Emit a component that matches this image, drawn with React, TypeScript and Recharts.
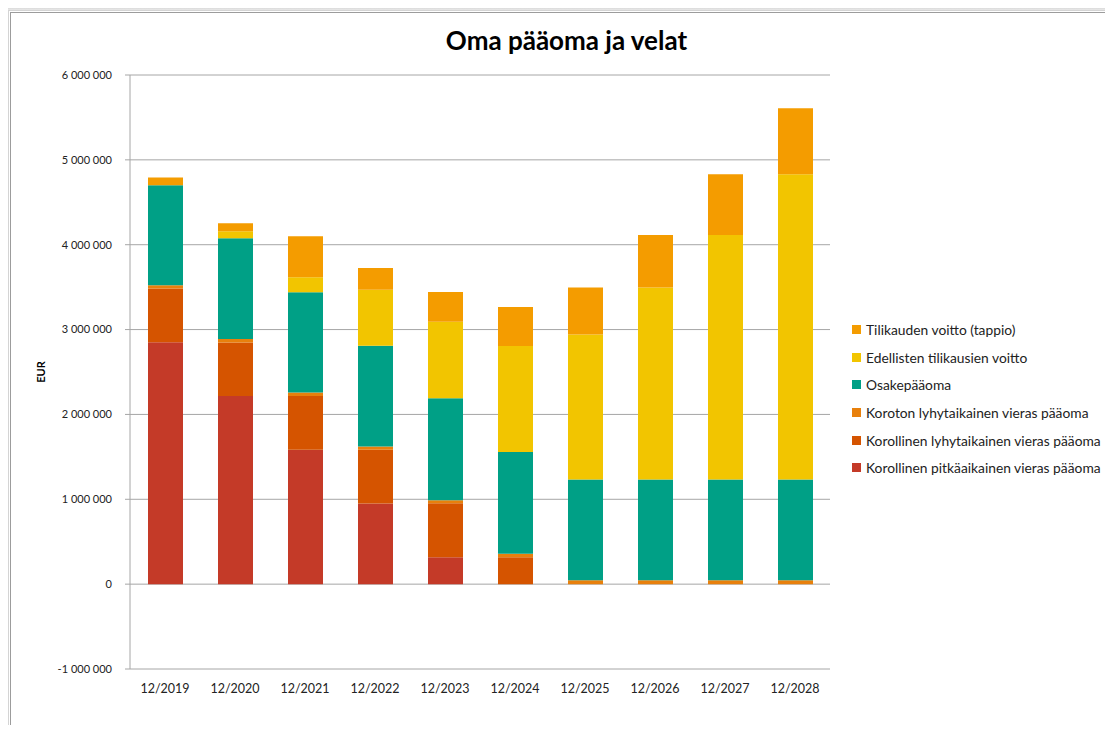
import React from 'react';
import { BarChart, Bar, XAxis, YAxis, CartesianGrid } from 'recharts';

const categories = ['12/2019', '12/2020', '12/2021', '12/2022', '12/2023', '12/2024', '12/2025', '12/2026', '12/2027', '12/2028'];
const korollinenPitka = [2850000, 2216000, 1583000, 950000, 317000, 0, 0, 0, 0, 0];
const korollinenLyhyt = [633000, 633000, 633000, 633000, 637000, 317000, 0, 0, 0, 0];
const korotonLyhyt = [40000, 39000, 42000, 40000, 36000, 40000, 45000, 45000, 45000, 45000];
const osakepaaoma = [1178000, 1187000, 1182000, 1186000, 1200000, 1199000, 1189000, 1189000, 1189000, 1189000];
const edellistenVoitto = [0, 83000, 177000, 660000, 902000, 1250000, 1709000, 2263000, 2880000, 3595000];
const tilikaudenVoitto = [90000, 94000, 483000, 256000, 350000, 459000, 554000, 617000, 715000, 780000];
const yTicks = [-1000000, 0, 1000000, 2000000, 3000000, 4000000, 5000000, 6000000];

const COLORS = {
  pitka: '#C43A28',
  lyhyt: '#D55400',
  koroton: '#E8800C',
  osake: '#00A086',
  edellisten: '#F2C500',
  tilikauden: '#F49C00',
};

const NAMES = {
  pitka: 'Korollinen pitkäaikainen vieras pääoma',
  lyhyt: 'Korollinen lyhytaikainen vieras pääoma',
  koroton: 'Koroton lyhytaikainen vieras pääoma',
  osake: 'Osakepääoma',
  edellisten: 'Edellisten tilikausien voitto',
  tilikauden: 'Tilikauden voitto (tappio)',
};

const legendOrder = ['tilikauden', 'edellisten', 'osake', 'koroton', 'lyhyt', 'pitka'];

const data = categories.map((c, i) => ({
  name: c,
  pitka: korollinenPitka[i],
  lyhyt: korollinenLyhyt[i],
  koroton: korotonLyhyt[i],
  osake: osakepaaoma[i],
  edellisten: edellistenVoitto[i],
  tilikauden: tilikaudenVoitto[i],
}));

const fmt = (v: number) => {
  const s = Math.abs(v).toString().replace(/\B(?=(\d{3})+(?!\d))/g, ' ');
  return v < 0 ? '-' + s : s;
};

const FONT = 'Lato, "Open Sans", sans-serif';

export default function App() {
  return (
    <div style={{ margin: -8, width: 1113, height: 733, position: 'relative', background: '#fff', overflow: 'hidden' }}>
      <div style={{ position: 'absolute', left: 0, top: 0, width: 1113, height: 10, background: 'linear-gradient(to bottom, #a4a4a4, #e8e8e8)' }} />
      <div style={{ position: 'absolute', left: 0, top: 0, width: 8, height: 733, background: 'linear-gradient(to right, #a4a4a4, #e8e8e8)' }} />
      <div
        style={{
          position: 'absolute',
          left: 8,
          top: 10,
          width: 1120,
          height: 740,
          background: '#fff',
          borderTop: '1px solid #d4d4d4',
          borderLeft: '1px solid #d4d4d4',
        }}
      />
      <div
        style={{
          position: 'absolute',
          left: 10,
          top: 12,
          width: 1120,
          height: 740,
          borderTop: '1px solid #9c9c9c',
          borderLeft: '1px solid #9c9c9c',
        }}
      />
      <div
        style={{
          position: 'absolute',
          left: 0,
          width: 1133,
          top: 24,
          textAlign: 'center',
          fontFamily: FONT,
          fontWeight: 700,
          fontSize: 26,
          color: '#000',
        }}
      >
        Oma pääoma ja velat
      </div>
      <div
        style={{
          position: 'absolute',
          left: 40,
          top: 372,
          transform: 'translate(-50%, -50%) rotate(-90deg)',
          fontFamily: FONT,
          fontWeight: 700,
          fontSize: 11,
          color: '#000',
        }}
      >
        EUR
      </div>
      <div style={{ position: 'absolute', left: 852, top: 316, fontFamily: FONT, fontSize: 13.8, color: '#222' }}>
        {legendOrder.map((k) => (
          <div key={k} style={{ display: 'flex', alignItems: 'center', height: 27.6 }}>
            <span style={{ display: 'inline-block', width: 9, height: 9, background: (COLORS as any)[k], marginRight: 5 }} />
            <span style={{ whiteSpace: 'nowrap' }}>{(NAMES as any)[k]}</span>
          </div>
        ))}
      </div>
      <div style={{ position: 'absolute', left: 8, top: 8 }}>
        <BarChart
          width={840}
          height={717}
          data={data}
          margin={{ top: 67, right: 18, bottom: 26, left: 42 }}
        >
          <CartesianGrid vertical={false} stroke="#a6a6a6" />
          <XAxis
            dataKey="name"
            axisLine={false}
            tickLine={false}
            tickMargin={9}
            height={30}
            interval={0}
            tick={{ fontFamily: FONT, fontSize: 12.5, fill: '#222' }}
          />
          <YAxis
            width={80}
            type="number"
            domain={[-1000000, 6000000]}
            ticks={yTicks}
            tickFormatter={fmt}
            axisLine={{ stroke: '#a6a6a6' }}
            tickLine={{ stroke: '#a6a6a6' }}
            tickSize={5}
            tickMargin={13}
            tick={{ fontFamily: FONT, fontSize: 11, fill: '#222' }}
          />
          <Bar dataKey="pitka" name={NAMES.pitka} stackId="a" fill={COLORS.pitka} barSize={35} isAnimationActive={false} />
          <Bar dataKey="lyhyt" name={NAMES.lyhyt} stackId="a" fill={COLORS.lyhyt} barSize={35} isAnimationActive={false} />
          <Bar dataKey="koroton" name={NAMES.koroton} stackId="a" fill={COLORS.koroton} barSize={35} isAnimationActive={false} />
          <Bar dataKey="osake" name={NAMES.osake} stackId="a" fill={COLORS.osake} barSize={35} isAnimationActive={false} />
          <Bar dataKey="edellisten" name={NAMES.edellisten} stackId="a" fill={COLORS.edellisten} barSize={35} isAnimationActive={false} />
          <Bar dataKey="tilikauden" name={NAMES.tilikauden} stackId="a" fill={COLORS.tilikauden} barSize={35} isAnimationActive={false} />
        </BarChart>
      </div>
    </div>
  );
}
